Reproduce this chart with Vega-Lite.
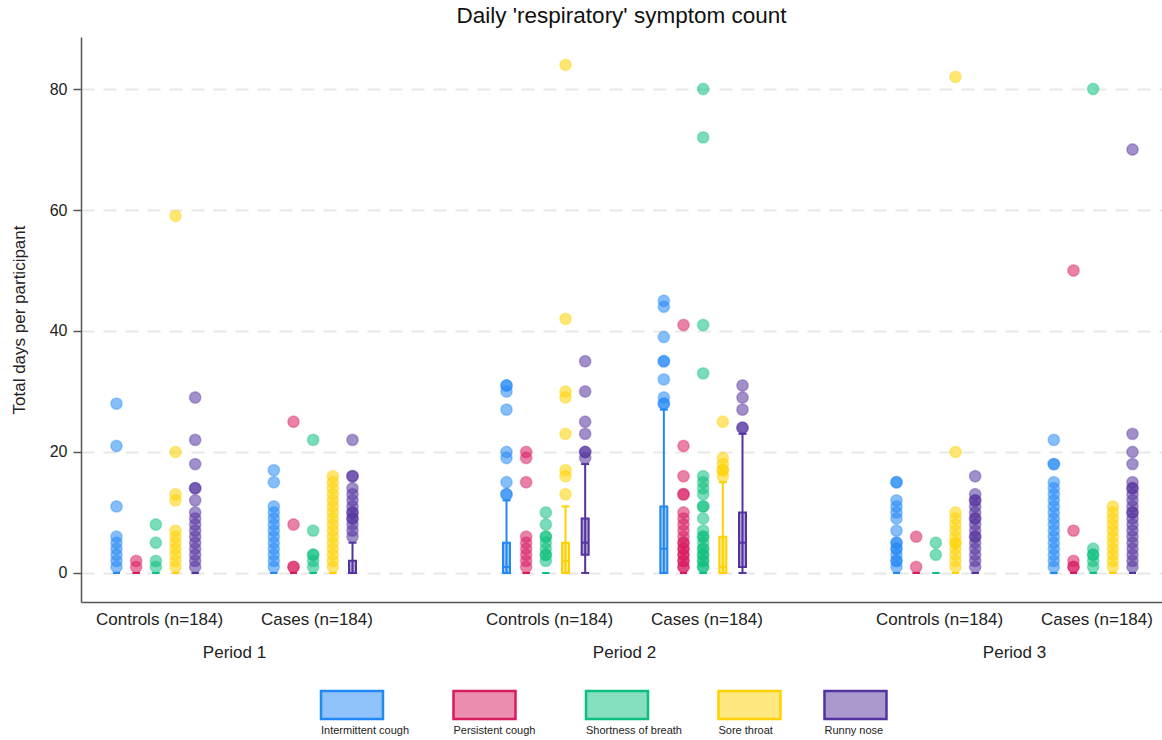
{
"$schema":"https://vega.github.io/schema/vega-lite/v6.json",
"padding":{"left":10,"right":0,"top":4,"bottom":0},
"config":{"font":"Liberation Sans","view":{"stroke":null},"title":{"font":"Liberation Sans","fontSize":22.5,"fontWeight":"normal","color":"#111"},"text":{"font":"Liberation Sans"}},
"datasets":{
"boxes":[
{"period":"Period 1","slot":"Controls: Intermittent cough","symptom":"Intermittent cough","q1":0,"median":0,"q3":0,"lo":0,"hi":0},
{"period":"Period 1","slot":"Controls: Persistent cough","symptom":"Persistent cough","q1":0,"median":0,"q3":0,"lo":0,"hi":0},
{"period":"Period 1","slot":"Controls: Shortness of breath","symptom":"Shortness of breath","q1":0,"median":0,"q3":0,"lo":0,"hi":0},
{"period":"Period 1","slot":"Controls: Sore throat","symptom":"Sore throat","q1":0,"median":0,"q3":0,"lo":0,"hi":0},
{"period":"Period 1","slot":"Controls: Runny nose","symptom":"Runny nose","q1":0,"median":0,"q3":0,"lo":0,"hi":0},
{"period":"Period 1","slot":"Cases: Intermittent cough","symptom":"Intermittent cough","q1":0,"median":0,"q3":0,"lo":0,"hi":0},
{"period":"Period 1","slot":"Cases: Persistent cough","symptom":"Persistent cough","q1":0,"median":0,"q3":0,"lo":0,"hi":0},
{"period":"Period 1","slot":"Cases: Shortness of breath","symptom":"Shortness of breath","q1":0,"median":0,"q3":0,"lo":0,"hi":0},
{"period":"Period 1","slot":"Cases: Sore throat","symptom":"Sore throat","q1":0,"median":0,"q3":0,"lo":0,"hi":0},
{"period":"Period 1","slot":"Cases: Runny nose","symptom":"Runny nose","q1":0,"median":0,"q3":2,"lo":0,"hi":5},
{"period":"Period 2","slot":"Controls: Intermittent cough","symptom":"Intermittent cough","q1":0,"median":1,"q3":5,"lo":0,"hi":12},
{"period":"Period 2","slot":"Controls: Persistent cough","symptom":"Persistent cough","q1":0,"median":0,"q3":0,"lo":0,"hi":0},
{"period":"Period 2","slot":"Controls: Shortness of breath","symptom":"Shortness of breath","q1":0,"median":0,"q3":0,"lo":0,"hi":0},
{"period":"Period 2","slot":"Controls: Sore throat","symptom":"Sore throat","q1":0,"median":2,"q3":5,"lo":0,"hi":11},
{"period":"Period 2","slot":"Controls: Runny nose","symptom":"Runny nose","q1":3,"median":5,"q3":9,"lo":0,"hi":18},
{"period":"Period 2","slot":"Cases: Intermittent cough","symptom":"Intermittent cough","q1":0,"median":4,"q3":11,"lo":0,"hi":27},
{"period":"Period 2","slot":"Cases: Persistent cough","symptom":"Persistent cough","q1":0,"median":0,"q3":0,"lo":0,"hi":0},
{"period":"Period 2","slot":"Cases: Shortness of breath","symptom":"Shortness of breath","q1":0,"median":0,"q3":0,"lo":0,"hi":0},
{"period":"Period 2","slot":"Cases: Sore throat","symptom":"Sore throat","q1":0,"median":1,"q3":6,"lo":0,"hi":15},
{"period":"Period 2","slot":"Cases: Runny nose","symptom":"Runny nose","q1":1,"median":5,"q3":10,"lo":0,"hi":23},
{"period":"Period 3","slot":"Controls: Intermittent cough","symptom":"Intermittent cough","q1":0,"median":0,"q3":0,"lo":0,"hi":0},
{"period":"Period 3","slot":"Controls: Persistent cough","symptom":"Persistent cough","q1":0,"median":0,"q3":0,"lo":0,"hi":0},
{"period":"Period 3","slot":"Controls: Shortness of breath","symptom":"Shortness of breath","q1":0,"median":0,"q3":0,"lo":0,"hi":0},
{"period":"Period 3","slot":"Controls: Sore throat","symptom":"Sore throat","q1":0,"median":0,"q3":0,"lo":0,"hi":0},
{"period":"Period 3","slot":"Controls: Runny nose","symptom":"Runny nose","q1":0,"median":0,"q3":0,"lo":0,"hi":0},
{"period":"Period 3","slot":"Cases: Intermittent cough","symptom":"Intermittent cough","q1":0,"median":0,"q3":0,"lo":0,"hi":0},
{"period":"Period 3","slot":"Cases: Persistent cough","symptom":"Persistent cough","q1":0,"median":0,"q3":0,"lo":0,"hi":0},
{"period":"Period 3","slot":"Cases: Shortness of breath","symptom":"Shortness of breath","q1":0,"median":0,"q3":0,"lo":0,"hi":0},
{"period":"Period 3","slot":"Cases: Sore throat","symptom":"Sore throat","q1":0,"median":0,"q3":0,"lo":0,"hi":0},
{"period":"Period 3","slot":"Cases: Runny nose","symptom":"Runny nose","q1":0,"median":0,"q3":0,"lo":0,"hi":0}
],
"points":[
{"period":"Period 1","slot":"Controls: Intermittent cough","symptom":"Intermittent cough","days":1},
{"period":"Period 1","slot":"Controls: Intermittent cough","symptom":"Intermittent cough","days":2},
{"period":"Period 1","slot":"Controls: Intermittent cough","symptom":"Intermittent cough","days":3},
{"period":"Period 1","slot":"Controls: Intermittent cough","symptom":"Intermittent cough","days":4},
{"period":"Period 1","slot":"Controls: Intermittent cough","symptom":"Intermittent cough","days":5},
{"period":"Period 1","slot":"Controls: Intermittent cough","symptom":"Intermittent cough","days":6},
{"period":"Period 1","slot":"Controls: Intermittent cough","symptom":"Intermittent cough","days":11},
{"period":"Period 1","slot":"Controls: Intermittent cough","symptom":"Intermittent cough","days":21},
{"period":"Period 1","slot":"Controls: Intermittent cough","symptom":"Intermittent cough","days":28},
{"period":"Period 1","slot":"Controls: Persistent cough","symptom":"Persistent cough","days":1},
{"period":"Period 1","slot":"Controls: Persistent cough","symptom":"Persistent cough","days":2},
{"period":"Period 1","slot":"Controls: Shortness of breath","symptom":"Shortness of breath","days":1},
{"period":"Period 1","slot":"Controls: Shortness of breath","symptom":"Shortness of breath","days":2},
{"period":"Period 1","slot":"Controls: Shortness of breath","symptom":"Shortness of breath","days":5},
{"period":"Period 1","slot":"Controls: Shortness of breath","symptom":"Shortness of breath","days":8},
{"period":"Period 1","slot":"Controls: Sore throat","symptom":"Sore throat","days":1},
{"period":"Period 1","slot":"Controls: Sore throat","symptom":"Sore throat","days":2},
{"period":"Period 1","slot":"Controls: Sore throat","symptom":"Sore throat","days":3},
{"period":"Period 1","slot":"Controls: Sore throat","symptom":"Sore throat","days":4},
{"period":"Period 1","slot":"Controls: Sore throat","symptom":"Sore throat","days":5},
{"period":"Period 1","slot":"Controls: Sore throat","symptom":"Sore throat","days":6},
{"period":"Period 1","slot":"Controls: Sore throat","symptom":"Sore throat","days":7},
{"period":"Period 1","slot":"Controls: Sore throat","symptom":"Sore throat","days":12},
{"period":"Period 1","slot":"Controls: Sore throat","symptom":"Sore throat","days":13},
{"period":"Period 1","slot":"Controls: Sore throat","symptom":"Sore throat","days":20},
{"period":"Period 1","slot":"Controls: Sore throat","symptom":"Sore throat","days":59},
{"period":"Period 1","slot":"Controls: Runny nose","symptom":"Runny nose","days":1},
{"period":"Period 1","slot":"Controls: Runny nose","symptom":"Runny nose","days":2},
{"period":"Period 1","slot":"Controls: Runny nose","symptom":"Runny nose","days":3},
{"period":"Period 1","slot":"Controls: Runny nose","symptom":"Runny nose","days":4},
{"period":"Period 1","slot":"Controls: Runny nose","symptom":"Runny nose","days":5},
{"period":"Period 1","slot":"Controls: Runny nose","symptom":"Runny nose","days":6},
{"period":"Period 1","slot":"Controls: Runny nose","symptom":"Runny nose","days":7},
{"period":"Period 1","slot":"Controls: Runny nose","symptom":"Runny nose","days":8},
{"period":"Period 1","slot":"Controls: Runny nose","symptom":"Runny nose","days":9},
{"period":"Period 1","slot":"Controls: Runny nose","symptom":"Runny nose","days":10},
{"period":"Period 1","slot":"Controls: Runny nose","symptom":"Runny nose","days":12},
{"period":"Period 1","slot":"Controls: Runny nose","symptom":"Runny nose","days":14},
{"period":"Period 1","slot":"Controls: Runny nose","symptom":"Runny nose","days":14},
{"period":"Period 1","slot":"Controls: Runny nose","symptom":"Runny nose","days":18},
{"period":"Period 1","slot":"Controls: Runny nose","symptom":"Runny nose","days":22},
{"period":"Period 1","slot":"Controls: Runny nose","symptom":"Runny nose","days":29},
{"period":"Period 1","slot":"Cases: Intermittent cough","symptom":"Intermittent cough","days":1},
{"period":"Period 1","slot":"Cases: Intermittent cough","symptom":"Intermittent cough","days":2},
{"period":"Period 1","slot":"Cases: Intermittent cough","symptom":"Intermittent cough","days":3},
{"period":"Period 1","slot":"Cases: Intermittent cough","symptom":"Intermittent cough","days":4},
{"period":"Period 1","slot":"Cases: Intermittent cough","symptom":"Intermittent cough","days":5},
{"period":"Period 1","slot":"Cases: Intermittent cough","symptom":"Intermittent cough","days":6},
{"period":"Period 1","slot":"Cases: Intermittent cough","symptom":"Intermittent cough","days":7},
{"period":"Period 1","slot":"Cases: Intermittent cough","symptom":"Intermittent cough","days":8},
{"period":"Period 1","slot":"Cases: Intermittent cough","symptom":"Intermittent cough","days":9},
{"period":"Period 1","slot":"Cases: Intermittent cough","symptom":"Intermittent cough","days":10},
{"period":"Period 1","slot":"Cases: Intermittent cough","symptom":"Intermittent cough","days":11},
{"period":"Period 1","slot":"Cases: Intermittent cough","symptom":"Intermittent cough","days":15},
{"period":"Period 1","slot":"Cases: Intermittent cough","symptom":"Intermittent cough","days":17},
{"period":"Period 1","slot":"Cases: Persistent cough","symptom":"Persistent cough","days":1},
{"period":"Period 1","slot":"Cases: Persistent cough","symptom":"Persistent cough","days":1},
{"period":"Period 1","slot":"Cases: Persistent cough","symptom":"Persistent cough","days":8},
{"period":"Period 1","slot":"Cases: Persistent cough","symptom":"Persistent cough","days":25},
{"period":"Period 1","slot":"Cases: Shortness of breath","symptom":"Shortness of breath","days":1},
{"period":"Period 1","slot":"Cases: Shortness of breath","symptom":"Shortness of breath","days":2},
{"period":"Period 1","slot":"Cases: Shortness of breath","symptom":"Shortness of breath","days":3},
{"period":"Period 1","slot":"Cases: Shortness of breath","symptom":"Shortness of breath","days":3},
{"period":"Period 1","slot":"Cases: Shortness of breath","symptom":"Shortness of breath","days":7},
{"period":"Period 1","slot":"Cases: Shortness of breath","symptom":"Shortness of breath","days":22},
{"period":"Period 1","slot":"Cases: Sore throat","symptom":"Sore throat","days":1},
{"period":"Period 1","slot":"Cases: Sore throat","symptom":"Sore throat","days":2},
{"period":"Period 1","slot":"Cases: Sore throat","symptom":"Sore throat","days":3},
{"period":"Period 1","slot":"Cases: Sore throat","symptom":"Sore throat","days":4},
{"period":"Period 1","slot":"Cases: Sore throat","symptom":"Sore throat","days":5},
{"period":"Period 1","slot":"Cases: Sore throat","symptom":"Sore throat","days":6},
{"period":"Period 1","slot":"Cases: Sore throat","symptom":"Sore throat","days":7},
{"period":"Period 1","slot":"Cases: Sore throat","symptom":"Sore throat","days":8},
{"period":"Period 1","slot":"Cases: Sore throat","symptom":"Sore throat","days":9},
{"period":"Period 1","slot":"Cases: Sore throat","symptom":"Sore throat","days":10},
{"period":"Period 1","slot":"Cases: Sore throat","symptom":"Sore throat","days":11},
{"period":"Period 1","slot":"Cases: Sore throat","symptom":"Sore throat","days":12},
{"period":"Period 1","slot":"Cases: Sore throat","symptom":"Sore throat","days":13},
{"period":"Period 1","slot":"Cases: Sore throat","symptom":"Sore throat","days":14},
{"period":"Period 1","slot":"Cases: Sore throat","symptom":"Sore throat","days":15},
{"period":"Period 1","slot":"Cases: Sore throat","symptom":"Sore throat","days":16},
{"period":"Period 1","slot":"Cases: Runny nose","symptom":"Runny nose","days":6},
{"period":"Period 1","slot":"Cases: Runny nose","symptom":"Runny nose","days":7},
{"period":"Period 1","slot":"Cases: Runny nose","symptom":"Runny nose","days":8},
{"period":"Period 1","slot":"Cases: Runny nose","symptom":"Runny nose","days":9},
{"period":"Period 1","slot":"Cases: Runny nose","symptom":"Runny nose","days":9},
{"period":"Period 1","slot":"Cases: Runny nose","symptom":"Runny nose","days":10},
{"period":"Period 1","slot":"Cases: Runny nose","symptom":"Runny nose","days":10},
{"period":"Period 1","slot":"Cases: Runny nose","symptom":"Runny nose","days":11},
{"period":"Period 1","slot":"Cases: Runny nose","symptom":"Runny nose","days":12},
{"period":"Period 1","slot":"Cases: Runny nose","symptom":"Runny nose","days":13},
{"period":"Period 1","slot":"Cases: Runny nose","symptom":"Runny nose","days":14},
{"period":"Period 1","slot":"Cases: Runny nose","symptom":"Runny nose","days":16},
{"period":"Period 1","slot":"Cases: Runny nose","symptom":"Runny nose","days":16},
{"period":"Period 1","slot":"Cases: Runny nose","symptom":"Runny nose","days":22},
{"period":"Period 2","slot":"Controls: Intermittent cough","symptom":"Intermittent cough","days":13},
{"period":"Period 2","slot":"Controls: Intermittent cough","symptom":"Intermittent cough","days":13},
{"period":"Period 2","slot":"Controls: Intermittent cough","symptom":"Intermittent cough","days":15},
{"period":"Period 2","slot":"Controls: Intermittent cough","symptom":"Intermittent cough","days":19},
{"period":"Period 2","slot":"Controls: Intermittent cough","symptom":"Intermittent cough","days":20},
{"period":"Period 2","slot":"Controls: Intermittent cough","symptom":"Intermittent cough","days":27},
{"period":"Period 2","slot":"Controls: Intermittent cough","symptom":"Intermittent cough","days":30},
{"period":"Period 2","slot":"Controls: Intermittent cough","symptom":"Intermittent cough","days":31},
{"period":"Period 2","slot":"Controls: Intermittent cough","symptom":"Intermittent cough","days":31},
{"period":"Period 2","slot":"Controls: Persistent cough","symptom":"Persistent cough","days":1},
{"period":"Period 2","slot":"Controls: Persistent cough","symptom":"Persistent cough","days":2},
{"period":"Period 2","slot":"Controls: Persistent cough","symptom":"Persistent cough","days":3},
{"period":"Period 2","slot":"Controls: Persistent cough","symptom":"Persistent cough","days":4},
{"period":"Period 2","slot":"Controls: Persistent cough","symptom":"Persistent cough","days":5},
{"period":"Period 2","slot":"Controls: Persistent cough","symptom":"Persistent cough","days":6},
{"period":"Period 2","slot":"Controls: Persistent cough","symptom":"Persistent cough","days":15},
{"period":"Period 2","slot":"Controls: Persistent cough","symptom":"Persistent cough","days":19},
{"period":"Period 2","slot":"Controls: Persistent cough","symptom":"Persistent cough","days":20},
{"period":"Period 2","slot":"Controls: Shortness of breath","symptom":"Shortness of breath","days":2},
{"period":"Period 2","slot":"Controls: Shortness of breath","symptom":"Shortness of breath","days":3},
{"period":"Period 2","slot":"Controls: Shortness of breath","symptom":"Shortness of breath","days":3},
{"period":"Period 2","slot":"Controls: Shortness of breath","symptom":"Shortness of breath","days":4},
{"period":"Period 2","slot":"Controls: Shortness of breath","symptom":"Shortness of breath","days":5},
{"period":"Period 2","slot":"Controls: Shortness of breath","symptom":"Shortness of breath","days":6},
{"period":"Period 2","slot":"Controls: Shortness of breath","symptom":"Shortness of breath","days":6},
{"period":"Period 2","slot":"Controls: Shortness of breath","symptom":"Shortness of breath","days":8},
{"period":"Period 2","slot":"Controls: Shortness of breath","symptom":"Shortness of breath","days":10},
{"period":"Period 2","slot":"Controls: Sore throat","symptom":"Sore throat","days":13},
{"period":"Period 2","slot":"Controls: Sore throat","symptom":"Sore throat","days":16},
{"period":"Period 2","slot":"Controls: Sore throat","symptom":"Sore throat","days":17},
{"period":"Period 2","slot":"Controls: Sore throat","symptom":"Sore throat","days":23},
{"period":"Period 2","slot":"Controls: Sore throat","symptom":"Sore throat","days":29},
{"period":"Period 2","slot":"Controls: Sore throat","symptom":"Sore throat","days":30},
{"period":"Period 2","slot":"Controls: Sore throat","symptom":"Sore throat","days":42},
{"period":"Period 2","slot":"Controls: Sore throat","symptom":"Sore throat","days":84},
{"period":"Period 2","slot":"Controls: Runny nose","symptom":"Runny nose","days":19},
{"period":"Period 2","slot":"Controls: Runny nose","symptom":"Runny nose","days":20},
{"period":"Period 2","slot":"Controls: Runny nose","symptom":"Runny nose","days":20},
{"period":"Period 2","slot":"Controls: Runny nose","symptom":"Runny nose","days":23},
{"period":"Period 2","slot":"Controls: Runny nose","symptom":"Runny nose","days":25},
{"period":"Period 2","slot":"Controls: Runny nose","symptom":"Runny nose","days":30},
{"period":"Period 2","slot":"Controls: Runny nose","symptom":"Runny nose","days":35},
{"period":"Period 2","slot":"Cases: Intermittent cough","symptom":"Intermittent cough","days":28},
{"period":"Period 2","slot":"Cases: Intermittent cough","symptom":"Intermittent cough","days":28},
{"period":"Period 2","slot":"Cases: Intermittent cough","symptom":"Intermittent cough","days":29},
{"period":"Period 2","slot":"Cases: Intermittent cough","symptom":"Intermittent cough","days":32},
{"period":"Period 2","slot":"Cases: Intermittent cough","symptom":"Intermittent cough","days":35},
{"period":"Period 2","slot":"Cases: Intermittent cough","symptom":"Intermittent cough","days":35},
{"period":"Period 2","slot":"Cases: Intermittent cough","symptom":"Intermittent cough","days":39},
{"period":"Period 2","slot":"Cases: Intermittent cough","symptom":"Intermittent cough","days":44},
{"period":"Period 2","slot":"Cases: Intermittent cough","symptom":"Intermittent cough","days":45},
{"period":"Period 2","slot":"Cases: Persistent cough","symptom":"Persistent cough","days":1},
{"period":"Period 2","slot":"Cases: Persistent cough","symptom":"Persistent cough","days":1},
{"period":"Period 2","slot":"Cases: Persistent cough","symptom":"Persistent cough","days":2},
{"period":"Period 2","slot":"Cases: Persistent cough","symptom":"Persistent cough","days":2},
{"period":"Period 2","slot":"Cases: Persistent cough","symptom":"Persistent cough","days":3},
{"period":"Period 2","slot":"Cases: Persistent cough","symptom":"Persistent cough","days":3},
{"period":"Period 2","slot":"Cases: Persistent cough","symptom":"Persistent cough","days":4},
{"period":"Period 2","slot":"Cases: Persistent cough","symptom":"Persistent cough","days":4},
{"period":"Period 2","slot":"Cases: Persistent cough","symptom":"Persistent cough","days":5},
{"period":"Period 2","slot":"Cases: Persistent cough","symptom":"Persistent cough","days":5},
{"period":"Period 2","slot":"Cases: Persistent cough","symptom":"Persistent cough","days":6},
{"period":"Period 2","slot":"Cases: Persistent cough","symptom":"Persistent cough","days":7},
{"period":"Period 2","slot":"Cases: Persistent cough","symptom":"Persistent cough","days":8},
{"period":"Period 2","slot":"Cases: Persistent cough","symptom":"Persistent cough","days":9},
{"period":"Period 2","slot":"Cases: Persistent cough","symptom":"Persistent cough","days":10},
{"period":"Period 2","slot":"Cases: Persistent cough","symptom":"Persistent cough","days":13},
{"period":"Period 2","slot":"Cases: Persistent cough","symptom":"Persistent cough","days":13},
{"period":"Period 2","slot":"Cases: Persistent cough","symptom":"Persistent cough","days":16},
{"period":"Period 2","slot":"Cases: Persistent cough","symptom":"Persistent cough","days":21},
{"period":"Period 2","slot":"Cases: Persistent cough","symptom":"Persistent cough","days":41},
{"period":"Period 2","slot":"Cases: Shortness of breath","symptom":"Shortness of breath","days":1},
{"period":"Period 2","slot":"Cases: Shortness of breath","symptom":"Shortness of breath","days":1},
{"period":"Period 2","slot":"Cases: Shortness of breath","symptom":"Shortness of breath","days":2},
{"period":"Period 2","slot":"Cases: Shortness of breath","symptom":"Shortness of breath","days":2},
{"period":"Period 2","slot":"Cases: Shortness of breath","symptom":"Shortness of breath","days":3},
{"period":"Period 2","slot":"Cases: Shortness of breath","symptom":"Shortness of breath","days":3},
{"period":"Period 2","slot":"Cases: Shortness of breath","symptom":"Shortness of breath","days":4},
{"period":"Period 2","slot":"Cases: Shortness of breath","symptom":"Shortness of breath","days":4},
{"period":"Period 2","slot":"Cases: Shortness of breath","symptom":"Shortness of breath","days":5},
{"period":"Period 2","slot":"Cases: Shortness of breath","symptom":"Shortness of breath","days":6},
{"period":"Period 2","slot":"Cases: Shortness of breath","symptom":"Shortness of breath","days":6},
{"period":"Period 2","slot":"Cases: Shortness of breath","symptom":"Shortness of breath","days":7},
{"period":"Period 2","slot":"Cases: Shortness of breath","symptom":"Shortness of breath","days":9},
{"period":"Period 2","slot":"Cases: Shortness of breath","symptom":"Shortness of breath","days":11},
{"period":"Period 2","slot":"Cases: Shortness of breath","symptom":"Shortness of breath","days":11},
{"period":"Period 2","slot":"Cases: Shortness of breath","symptom":"Shortness of breath","days":13},
{"period":"Period 2","slot":"Cases: Shortness of breath","symptom":"Shortness of breath","days":14},
{"period":"Period 2","slot":"Cases: Shortness of breath","symptom":"Shortness of breath","days":15},
{"period":"Period 2","slot":"Cases: Shortness of breath","symptom":"Shortness of breath","days":16},
{"period":"Period 2","slot":"Cases: Shortness of breath","symptom":"Shortness of breath","days":33},
{"period":"Period 2","slot":"Cases: Shortness of breath","symptom":"Shortness of breath","days":41},
{"period":"Period 2","slot":"Cases: Shortness of breath","symptom":"Shortness of breath","days":72},
{"period":"Period 2","slot":"Cases: Shortness of breath","symptom":"Shortness of breath","days":80},
{"period":"Period 2","slot":"Cases: Sore throat","symptom":"Sore throat","days":16},
{"period":"Period 2","slot":"Cases: Sore throat","symptom":"Sore throat","days":17},
{"period":"Period 2","slot":"Cases: Sore throat","symptom":"Sore throat","days":17},
{"period":"Period 2","slot":"Cases: Sore throat","symptom":"Sore throat","days":18},
{"period":"Period 2","slot":"Cases: Sore throat","symptom":"Sore throat","days":19},
{"period":"Period 2","slot":"Cases: Sore throat","symptom":"Sore throat","days":25},
{"period":"Period 2","slot":"Cases: Runny nose","symptom":"Runny nose","days":24},
{"period":"Period 2","slot":"Cases: Runny nose","symptom":"Runny nose","days":24},
{"period":"Period 2","slot":"Cases: Runny nose","symptom":"Runny nose","days":27},
{"period":"Period 2","slot":"Cases: Runny nose","symptom":"Runny nose","days":29},
{"period":"Period 2","slot":"Cases: Runny nose","symptom":"Runny nose","days":31},
{"period":"Period 3","slot":"Controls: Intermittent cough","symptom":"Intermittent cough","days":1},
{"period":"Period 3","slot":"Controls: Intermittent cough","symptom":"Intermittent cough","days":2},
{"period":"Period 3","slot":"Controls: Intermittent cough","symptom":"Intermittent cough","days":2},
{"period":"Period 3","slot":"Controls: Intermittent cough","symptom":"Intermittent cough","days":3},
{"period":"Period 3","slot":"Controls: Intermittent cough","symptom":"Intermittent cough","days":4},
{"period":"Period 3","slot":"Controls: Intermittent cough","symptom":"Intermittent cough","days":4},
{"period":"Period 3","slot":"Controls: Intermittent cough","symptom":"Intermittent cough","days":5},
{"period":"Period 3","slot":"Controls: Intermittent cough","symptom":"Intermittent cough","days":5},
{"period":"Period 3","slot":"Controls: Intermittent cough","symptom":"Intermittent cough","days":7},
{"period":"Period 3","slot":"Controls: Intermittent cough","symptom":"Intermittent cough","days":9},
{"period":"Period 3","slot":"Controls: Intermittent cough","symptom":"Intermittent cough","days":10},
{"period":"Period 3","slot":"Controls: Intermittent cough","symptom":"Intermittent cough","days":11},
{"period":"Period 3","slot":"Controls: Intermittent cough","symptom":"Intermittent cough","days":12},
{"period":"Period 3","slot":"Controls: Intermittent cough","symptom":"Intermittent cough","days":15},
{"period":"Period 3","slot":"Controls: Intermittent cough","symptom":"Intermittent cough","days":15},
{"period":"Period 3","slot":"Controls: Persistent cough","symptom":"Persistent cough","days":1},
{"period":"Period 3","slot":"Controls: Persistent cough","symptom":"Persistent cough","days":6},
{"period":"Period 3","slot":"Controls: Shortness of breath","symptom":"Shortness of breath","days":3},
{"period":"Period 3","slot":"Controls: Shortness of breath","symptom":"Shortness of breath","days":5},
{"period":"Period 3","slot":"Controls: Sore throat","symptom":"Sore throat","days":1},
{"period":"Period 3","slot":"Controls: Sore throat","symptom":"Sore throat","days":2},
{"period":"Period 3","slot":"Controls: Sore throat","symptom":"Sore throat","days":3},
{"period":"Period 3","slot":"Controls: Sore throat","symptom":"Sore throat","days":4},
{"period":"Period 3","slot":"Controls: Sore throat","symptom":"Sore throat","days":5},
{"period":"Period 3","slot":"Controls: Sore throat","symptom":"Sore throat","days":5},
{"period":"Period 3","slot":"Controls: Sore throat","symptom":"Sore throat","days":6},
{"period":"Period 3","slot":"Controls: Sore throat","symptom":"Sore throat","days":7},
{"period":"Period 3","slot":"Controls: Sore throat","symptom":"Sore throat","days":8},
{"period":"Period 3","slot":"Controls: Sore throat","symptom":"Sore throat","days":9},
{"period":"Period 3","slot":"Controls: Sore throat","symptom":"Sore throat","days":10},
{"period":"Period 3","slot":"Controls: Sore throat","symptom":"Sore throat","days":20},
{"period":"Period 3","slot":"Controls: Sore throat","symptom":"Sore throat","days":82},
{"period":"Period 3","slot":"Controls: Runny nose","symptom":"Runny nose","days":1},
{"period":"Period 3","slot":"Controls: Runny nose","symptom":"Runny nose","days":2},
{"period":"Period 3","slot":"Controls: Runny nose","symptom":"Runny nose","days":3},
{"period":"Period 3","slot":"Controls: Runny nose","symptom":"Runny nose","days":4},
{"period":"Period 3","slot":"Controls: Runny nose","symptom":"Runny nose","days":5},
{"period":"Period 3","slot":"Controls: Runny nose","symptom":"Runny nose","days":6},
{"period":"Period 3","slot":"Controls: Runny nose","symptom":"Runny nose","days":6},
{"period":"Period 3","slot":"Controls: Runny nose","symptom":"Runny nose","days":7},
{"period":"Period 3","slot":"Controls: Runny nose","symptom":"Runny nose","days":8},
{"period":"Period 3","slot":"Controls: Runny nose","symptom":"Runny nose","days":9},
{"period":"Period 3","slot":"Controls: Runny nose","symptom":"Runny nose","days":9},
{"period":"Period 3","slot":"Controls: Runny nose","symptom":"Runny nose","days":10},
{"period":"Period 3","slot":"Controls: Runny nose","symptom":"Runny nose","days":11},
{"period":"Period 3","slot":"Controls: Runny nose","symptom":"Runny nose","days":12},
{"period":"Period 3","slot":"Controls: Runny nose","symptom":"Runny nose","days":12},
{"period":"Period 3","slot":"Controls: Runny nose","symptom":"Runny nose","days":13},
{"period":"Period 3","slot":"Controls: Runny nose","symptom":"Runny nose","days":16},
{"period":"Period 3","slot":"Cases: Intermittent cough","symptom":"Intermittent cough","days":1},
{"period":"Period 3","slot":"Cases: Intermittent cough","symptom":"Intermittent cough","days":2},
{"period":"Period 3","slot":"Cases: Intermittent cough","symptom":"Intermittent cough","days":3},
{"period":"Period 3","slot":"Cases: Intermittent cough","symptom":"Intermittent cough","days":4},
{"period":"Period 3","slot":"Cases: Intermittent cough","symptom":"Intermittent cough","days":5},
{"period":"Period 3","slot":"Cases: Intermittent cough","symptom":"Intermittent cough","days":6},
{"period":"Period 3","slot":"Cases: Intermittent cough","symptom":"Intermittent cough","days":7},
{"period":"Period 3","slot":"Cases: Intermittent cough","symptom":"Intermittent cough","days":8},
{"period":"Period 3","slot":"Cases: Intermittent cough","symptom":"Intermittent cough","days":9},
{"period":"Period 3","slot":"Cases: Intermittent cough","symptom":"Intermittent cough","days":10},
{"period":"Period 3","slot":"Cases: Intermittent cough","symptom":"Intermittent cough","days":11},
{"period":"Period 3","slot":"Cases: Intermittent cough","symptom":"Intermittent cough","days":12},
{"period":"Period 3","slot":"Cases: Intermittent cough","symptom":"Intermittent cough","days":13},
{"period":"Period 3","slot":"Cases: Intermittent cough","symptom":"Intermittent cough","days":14},
{"period":"Period 3","slot":"Cases: Intermittent cough","symptom":"Intermittent cough","days":15},
{"period":"Period 3","slot":"Cases: Intermittent cough","symptom":"Intermittent cough","days":18},
{"period":"Period 3","slot":"Cases: Intermittent cough","symptom":"Intermittent cough","days":18},
{"period":"Period 3","slot":"Cases: Intermittent cough","symptom":"Intermittent cough","days":22},
{"period":"Period 3","slot":"Cases: Persistent cough","symptom":"Persistent cough","days":1},
{"period":"Period 3","slot":"Cases: Persistent cough","symptom":"Persistent cough","days":1},
{"period":"Period 3","slot":"Cases: Persistent cough","symptom":"Persistent cough","days":2},
{"period":"Period 3","slot":"Cases: Persistent cough","symptom":"Persistent cough","days":7},
{"period":"Period 3","slot":"Cases: Persistent cough","symptom":"Persistent cough","days":50},
{"period":"Period 3","slot":"Cases: Shortness of breath","symptom":"Shortness of breath","days":1},
{"period":"Period 3","slot":"Cases: Shortness of breath","symptom":"Shortness of breath","days":2},
{"period":"Period 3","slot":"Cases: Shortness of breath","symptom":"Shortness of breath","days":3},
{"period":"Period 3","slot":"Cases: Shortness of breath","symptom":"Shortness of breath","days":3},
{"period":"Period 3","slot":"Cases: Shortness of breath","symptom":"Shortness of breath","days":4},
{"period":"Period 3","slot":"Cases: Shortness of breath","symptom":"Shortness of breath","days":80},
{"period":"Period 3","slot":"Cases: Sore throat","symptom":"Sore throat","days":1},
{"period":"Period 3","slot":"Cases: Sore throat","symptom":"Sore throat","days":2},
{"period":"Period 3","slot":"Cases: Sore throat","symptom":"Sore throat","days":3},
{"period":"Period 3","slot":"Cases: Sore throat","symptom":"Sore throat","days":4},
{"period":"Period 3","slot":"Cases: Sore throat","symptom":"Sore throat","days":5},
{"period":"Period 3","slot":"Cases: Sore throat","symptom":"Sore throat","days":6},
{"period":"Period 3","slot":"Cases: Sore throat","symptom":"Sore throat","days":7},
{"period":"Period 3","slot":"Cases: Sore throat","symptom":"Sore throat","days":8},
{"period":"Period 3","slot":"Cases: Sore throat","symptom":"Sore throat","days":9},
{"period":"Period 3","slot":"Cases: Sore throat","symptom":"Sore throat","days":10},
{"period":"Period 3","slot":"Cases: Sore throat","symptom":"Sore throat","days":11},
{"period":"Period 3","slot":"Cases: Runny nose","symptom":"Runny nose","days":1},
{"period":"Period 3","slot":"Cases: Runny nose","symptom":"Runny nose","days":2},
{"period":"Period 3","slot":"Cases: Runny nose","symptom":"Runny nose","days":3},
{"period":"Period 3","slot":"Cases: Runny nose","symptom":"Runny nose","days":4},
{"period":"Period 3","slot":"Cases: Runny nose","symptom":"Runny nose","days":5},
{"period":"Period 3","slot":"Cases: Runny nose","symptom":"Runny nose","days":6},
{"period":"Period 3","slot":"Cases: Runny nose","symptom":"Runny nose","days":7},
{"period":"Period 3","slot":"Cases: Runny nose","symptom":"Runny nose","days":8},
{"period":"Period 3","slot":"Cases: Runny nose","symptom":"Runny nose","days":9},
{"period":"Period 3","slot":"Cases: Runny nose","symptom":"Runny nose","days":10},
{"period":"Period 3","slot":"Cases: Runny nose","symptom":"Runny nose","days":10},
{"period":"Period 3","slot":"Cases: Runny nose","symptom":"Runny nose","days":11},
{"period":"Period 3","slot":"Cases: Runny nose","symptom":"Runny nose","days":12},
{"period":"Period 3","slot":"Cases: Runny nose","symptom":"Runny nose","days":13},
{"period":"Period 3","slot":"Cases: Runny nose","symptom":"Runny nose","days":14},
{"period":"Period 3","slot":"Cases: Runny nose","symptom":"Runny nose","days":14},
{"period":"Period 3","slot":"Cases: Runny nose","symptom":"Runny nose","days":15},
{"period":"Period 3","slot":"Cases: Runny nose","symptom":"Runny nose","days":18},
{"period":"Period 3","slot":"Cases: Runny nose","symptom":"Runny nose","days":20},
{"period":"Period 3","slot":"Cases: Runny nose","symptom":"Runny nose","days":23},
{"period":"Period 3","slot":"Cases: Runny nose","symptom":"Runny nose","days":70}
],
"legend":[
{"symptom":"Intermittent cough"},{"symptom":"Persistent cough"},{"symptom":"Shortness of breath"},{"symptom":"Sore throat"},{"symptom":"Runny nose"}
]
},
"vconcat":[
{
"title":{"text":"Daily 'respiratory' symptom count","frame":"group","anchor":"middle","offset":10},
"width":1081,"height":565,
"encoding":{
"x":{"field":"period","type":"nominal","scale":{"paddingInner":0.2436,"paddingOuter":0.0077,"align":1},"axis":{"title":null,"ticks":false,"grid":false,"domainColor":"#555","domainWidth":1.5,"labelAngle":0,"labelFontSize":17,"labelColor":"#222","labelPadding":9,"labelLineHeight":33,"labelLimit":0,"labelOverlap":false,"labelExpr":"['Controls (n=184)\u00a0\u00a0\u00a0\u00a0\u00a0\u00a0\u00a0\u00a0Cases (n=184)\u00a0', datum.label]"}},
"xOffset":{"field":"slot","type":"nominal","scale":{"domain":["Controls: Intermittent cough","Controls: Persistent cough","Controls: Shortness of breath","Controls: Sore throat","Controls: Runny nose"," ","  ","   ","Cases: Intermittent cough","Cases: Persistent cough","Cases: Shortness of breath","Cases: Sore throat","Cases: Runny nose"],"paddingInner":0,"paddingOuter":1,"align":0.5}}
},
"layer":[
{"data":{"name":"boxes"},"transform":[{"filter":"datum.hi > datum.lo"}],
"mark":{"type":"rule","strokeWidth":2},
"encoding":{"y":{"field":"lo","type":"quantitative","title":"Total days per participant","scale":{"domain":[-4.8,88.6],"nice":false,"zero":false},"axis":{"values":[0,20,40,60,80],"domainColor":"#555","domainWidth":1.5,"tickColor":"#555","tickWidth":1.5,"tickSize":8,"labelFontSize":16,"labelColor":"#222","labelPadding":6,"titleFontSize":17,"titleFontWeight":"normal","titleColor":"#222","titlePadding":21,"gridColor":"#e8e8e8","gridDash":[13,9],"gridWidth":2}},"y2":{"field":"hi"},"color":{"field":"symptom","type":"nominal","scale":{"domain":["Intermittent cough","Persistent cough","Shortness of breath","Sore throat","Runny nose"],"range":["#2288F5","#D81B60","#0DBF7E","#FFD100","#53339F"]},"legend":null}}},
{"data":{"name":"boxes"},"transform":[{"filter":"datum.hi > datum.lo"}],
"mark":{"type":"tick","size":8,"thickness":2,"opacity":1},
"encoding":{"y":{"field":"hi","type":"quantitative","title":"Total days per participant"},"color":{"field":"symptom","type":"nominal","legend":null}}},
{"data":{"name":"boxes"},"transform":[{"filter":"datum.hi > datum.lo"}],
"mark":{"type":"tick","size":8,"thickness":2,"opacity":1},
"encoding":{"y":{"field":"lo","type":"quantitative","title":"Total days per participant"},"color":{"field":"symptom","type":"nominal","legend":null}}},
{"data":{"name":"boxes"},
"mark":{"type":"bar","width":7,"fillOpacity":0.45,"strokeWidth":2,"opacity":1},
"encoding":{"y":{"field":"q1","type":"quantitative","title":"Total days per participant"},"y2":{"field":"q3"},"color":{"field":"symptom","type":"nominal","legend":null},"stroke":{"field":"symptom","type":"nominal","scale":{"domain":["Intermittent cough","Persistent cough","Shortness of breath","Sore throat","Runny nose"],"range":["#2288F5","#D81B60","#0DBF7E","#FFD100","#53339F"]},"legend":null}}},
{"data":{"name":"boxes"},
"mark":{"type":"tick","size":7,"thickness":2,"opacity":1},
"encoding":{"y":{"field":"median","type":"quantitative","title":"Total days per participant"},"color":{"field":"symptom","type":"nominal","legend":null}}},
{"data":{"name":"points"},
"mark":{"type":"point","filled":true,"shape":"circle","size":130,"opacity":1,"fillOpacity":0.55,"strokeOpacity":0.35,"strokeWidth":1.5},
"encoding":{"y":{"field":"days","type":"quantitative","title":"Total days per participant"},"color":{"field":"symptom","type":"nominal","legend":null},"stroke":{"field":"symptom","type":"nominal","legend":null}}}
]
},
{
"data":{"name":"legend"},
"width":795,"height":30,
"encoding":{"x":{"field":"symptom","type":"nominal","axis":null,"scale":{"type":"point","domain":["z1","z2","z3","z4","z5","z6","z7","z8","z9","Intermittent cough","a1","a2","a3","a4","Persistent cough","b1","b2","b3","b4","Shortness of breath","c1","c2","c3","c4","Sore throat","d1","d2","d3","Runny nose"],"padding":1,"align":0.613}}},
"layer":[
{"mark":{"type":"point","shape":"M-1,-0.45H1V0.45H-1Z","size":3844,"filled":true,"opacity":1,"fillOpacity":0.5,"strokeWidth":2.5},
"encoding":{"color":{"field":"symptom","type":"nominal","legend":null},"stroke":{"field":"symptom","type":"nominal","legend":null}}},
{"mark":{"type":"text","align":"left","baseline":"middle","dx":-31,"dy":26,"fontSize":11,"color":"#222"},
"encoding":{"text":{"field":"symptom"}}}
]
}
],
"spacing":26
}
